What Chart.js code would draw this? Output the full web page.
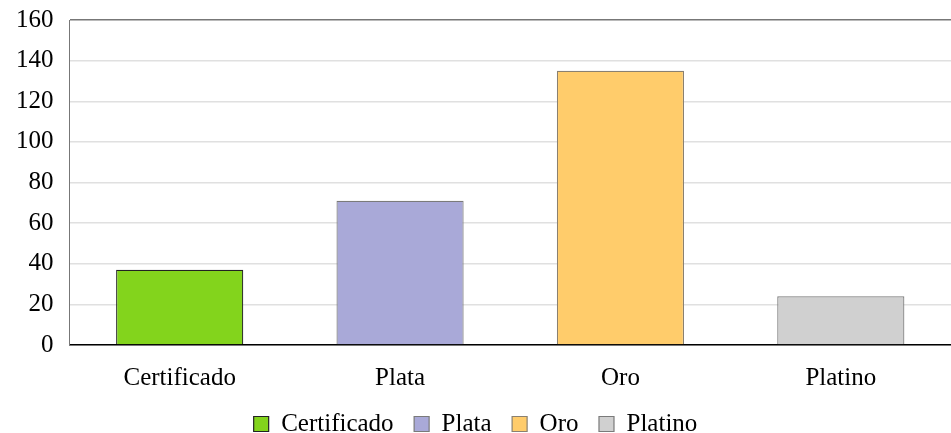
<!DOCTYPE html>
<html>
<head>
<meta charset="utf-8">
<script src="https://cdn.jsdelivr.net/npm/chart.js@4"></script>
<style>
  html, body { margin: 0; padding: 0; background: #fff; }
  #wrap { width: 951px; height: 433px; }
</style>
</head>
<body>
<div id="wrap"><canvas id="myChart"></canvas></div>
<script>
var categories = ['Certificado', 'Plata', 'Oro', 'Platino'];
var values = [37, 71, 135, 24];
var fillColors = ['#83d41c', '#a9a9d8', '#ffcc6b', '#d0d0d0'];
var edgeColors = ['#222222', '#7a7a7a', '#8a8070', '#7a7a7a'];
var yTicks = [0, 20, 40, 60, 80, 100, 120, 140, 160];

// one dataset per category so the legend shows each one
var datasets = categories.map(function (name, i) {
  return {
    label: name,
    data: categories.map(function (c, j) { return j === i ? values[i] : null; }),
    backgroundColor: fillColors[i],
    borderColor: edgeColors[i],
    borderWidth: 1.2,
    grouped: false,
    barPercentage: 0.577,
    categoryPercentage: 1
  };
});

var ctx = document.getElementById('myChart');
var myChart = new Chart(ctx, {
  type: 'bar',
  data: { labels: categories, datasets: datasets },
  options: {
    responsive: true,
    maintainAspectRatio: false,
    animation: false,
    layout: { padding: { top: 0, right: 0, left: 0, bottom: -13.5 } },
    plugins: {
      tooltip: { enabled: false },
      legend: {
        position: 'bottom',
        labels: {
          font: { family: 'Liberation Serif', size: 25, lineHeight: 1 },
          color: '#000',
          boxWidth: 15,
          boxHeight: 15,
          padding: 20.5,
          useBorderRadius: false
        }
      }
    },
    scales: {
      x: {
        grid: { display: false, drawTicks: false },
        border: { color: '#000', width: 1.5 },
        afterFit: function (axis) {
          axis.height = 46;
        },
        ticks: {
          font: { family: 'Liberation Serif', size: 25, lineHeight: 1 },
          color: '#000',
          padding: 20.5
        }
      },
      y: {
        min: 0,
        max: 160,
        afterBuildTicks: function (axis) {
          axis.ticks = yTicks.map(function (v) { return { value: v }; });
        },
        afterFit: function (axis) {
          axis.paddingTop = 20;
        },
        grid: {
          drawTicks: false,
          color: function (c) { return c.tick && c.tick.value === 160 ? '#777' : '#e0e0e0'; },
          lineWidth: 1.5
        },
        border: { color: '#777', width: 1 },
        ticks: {
          font: { family: 'Liberation Serif', size: 25, lineHeight: 1 },
          color: '#000',
          padding: 16
        }
      }
    }
  }
});
</script>
</body>
</html>
